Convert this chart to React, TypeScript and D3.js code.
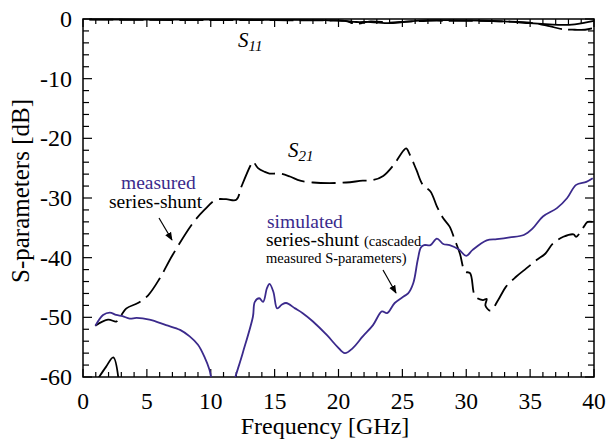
import React from "react";
import * as d3 from "d3";

const xTicks = [0, 5, 10, 15, 20, 25, 30, 35, 40];
const yTicks = [0, -10, -20, -30, -40, -50, -60];

// measured series-shunt S21 (dashed)
const measF = [0.96, 1.96, 2.6, 2.8, 3.4, 4.3, 5.1, 6.0, 7.0, 8.6, 9.5, 10.4, 11.2, 12.0, 12.4, 13.1, 13.3, 13.7, 14.2, 14.6, 15.4, 16.2, 17.0, 18.0, 19.3, 20.6, 21.9, 22.7, 23.5, 24.3, 25.1, 25.3, 25.6, 26.1, 26.6, 27.2, 27.7, 28.2, 28.7, 29.1, 29.5, 29.9, 30.3, 30.7, 31.3, 31.6, 31.5, 31.9, 32.5, 33.1, 33.9, 34.7, 35.5, 36.2, 36.8, 37.6, 38.4, 38.6, 39.3, 39.5, 39.9];
const measS21 = [-51.4, -50.4, -50.7, -50.3, -48.5, -47.6, -46.3, -43.5, -39.6, -34.2, -32.0, -30.3, -30.2, -30.3, -28.1, -24.6, -23.9, -25.0, -25.6, -25.9, -25.9, -26.4, -27.1, -27.4, -27.5, -27.4, -27.1, -27.0, -26.3, -24.5, -22.0, -21.7, -22.8, -25.3, -27.8, -28.9, -31.4, -33.4, -34.8, -37.0, -39.3, -42.3, -42.6, -46.5, -47.1, -46.9, -48.0, -48.9, -47.1, -44.9, -43.2, -41.8, -40.4, -39.3, -37.6, -36.5, -36.1, -36.5, -34.5, -34.0, -34.0];

// clipped low piece (measured, below axis)
const lowF = [1.2, 1.8, 2.37, 2.77];
const lowS21 = [-60.2, -58.3, -56.7, -60.2];

// simulated series-shunt (cascaded measured S-parameters)
const simF = [0.97, 1.57, 2.1, 2.6, 3.1, 3.65, 4.2, 5.2, 6.5, 7.6, 8.35, 9.0, 9.5, 9.9, 10.05, 10.2];
const simS21 = [-51.4, -49.6, -49.2, -49.6, -49.8, -50.2, -50.1, -50.4, -51.3, -52.1, -53.2, -54.6, -56.6, -58.8, -60.2, -61];
const sim2F = [11.8, 11.9, 12.5, 13.3, 13.45, 13.8, 14.1, 14.4, 14.6, 14.9, 15.2, 15.55, 15.9, 16.6, 17.2, 18.0, 19.1, 19.9, 20.5, 21.1, 21.9, 22.7, 23.4, 23.8, 24.4, 25.1, 25.45, 25.85, 26.2, 26.45, 26.7, 27.2, 27.7, 28.2, 28.7, 29.4, 30.0, 30.5, 31.6, 32.4, 33.4, 34.5, 35.2, 36.0, 37.1, 37.9, 38.6, 39.4, 39.9];
const sim2S21 = [-61, -60.2, -56.0, -49.9, -47.4, -46.8, -47.4, -45.1, -44.4, -45.7, -48.5, -47.9, -47.6, -48.5, -49.3, -50.7, -53.0, -54.9, -56.0, -55.2, -53.2, -51.3, -49.0, -49.3, -47.6, -46.5, -46.0, -44.3, -40.4, -38.3, -37.9, -37.9, -36.8, -37.7, -37.9, -38.6, -39.7, -38.7, -37.1, -36.9, -36.6, -36.2, -35.1, -33.1, -31.7, -30.0, -27.8, -27.3, -26.7];

// S11 curves near 0 dB
const s11F = [0.5, 5, 10, 15, 19, 20.5, 21.4, 22.5, 24, 25, 27, 29, 31, 33, 35, 36.5, 37.5, 38.5, 39.3, 40];
const s11Meas = [-0.1, -0.15, -0.2, -0.2, -0.25, -0.3, -0.8, -0.4, -0.6, -0.5, -0.3, -0.3, -0.3, -0.4, -0.6, -1.2, -1.7, -1.8, -1.8, -1.5];
const s11Sim = [-0.05, -0.1, -0.1, -0.15, -0.2, -0.3, -0.5, -0.5, -0.7, -0.5, -0.2, -0.2, -0.25, -0.4, -0.7, -0.9, -1.0, -0.9, -0.6, -0.3];

const W = 608, H = 446;
const L = 83, R = 594, T = 19, B = 377;
const purple = "#3b2a8c";
const ff = { fontFamily: "Liberation Serif" };

export default function App() {
  const x = d3.scaleLinear().domain([0, 40]).range([L, R]);
  const y = d3.scaleLinear().domain([-60, 0]).range([B, T]);
  const line = d3.line<[number, number]>().x(d => x(d[0])).y(d => y(d[1])).curve(d3.curveCatmullRom.alpha(0.5));
  const zip = (a: number[], b: number[]) => a.map((v, i) => [v, b[i]] as [number, number]);

  const minorX = d3.range(0, 41, 1);
  const minorY = d3.range(-60, 1, 2);

  return (
    <svg width={W} height={H} style={{ position: "absolute", left: 0, top: 0, background: "#fff" }}>
      <defs>
        <clipPath id="plot"><rect x={L} y={T - 3} width={R - L + 2} height={B - T + 3} /></clipPath>
        <marker id="arr" viewBox="0 0 10 10" refX="9" refY="5" markerWidth="7" markerHeight="7" orient="auto">
          <path d="M0,1 L10,5 L0,9 Z" fill="#000" />
        </marker>
      </defs>
      {minorX.map(v => {
        const len = v % 5 === 0 ? 8 : 5;
        return (
          <g key={"tx" + v} stroke="#000" strokeWidth={1.2}>
            <line x1={x(v)} x2={x(v)} y1={B} y2={B - len} />
            <line x1={x(v)} x2={x(v)} y1={T} y2={T + len} />
          </g>
        );
      })}
      {minorY.map(v => {
        const len = v % 10 === 0 ? 9 : 6;
        return (
          <g key={"ty" + v} stroke="#000" strokeWidth={1.2}>
            <line x1={L} x2={L + len} y1={y(v)} y2={y(v)} />
            <line x1={R} x2={R - len} y1={y(v)} y2={y(v)} />
          </g>
        );
      })}
      <rect x={L} y={T} width={R - L} height={B - T} fill="none" stroke="#000" strokeWidth={1.5} />
      {xTicks.map(v => (
        <text key={"lx" + v} x={x(v)} y={409} textAnchor="middle" fontSize={23.5} style={ff}>{v}</text>
      ))}
      {yTicks.map(v => (
        <text key={"ly" + v} x={72} y={y(v) + 8} textAnchor="end" fontSize={24} style={ff}>{v}</text>
      ))}
      <text x={325} y={434} textAnchor="middle" fontSize={24} style={ff}>Frequency [GHz]</text>
      <text transform="translate(29,191) rotate(-90)" textAnchor="middle" fontSize={25} style={ff}>S-parameters [dB]</text>

      <g clipPath="url(#plot)" fill="none">
        <path d={line(zip(s11F, s11Sim)) || ""} stroke="#000" strokeWidth={1.8} />
        <path d={line(zip(s11F, s11Meas)) || ""} stroke="#000" strokeWidth={1.8} strokeDasharray="24,6" />
        <path d={line(zip(measF, measS21)) || ""} stroke="#000" strokeWidth={1.8} strokeDasharray="24,7" />
        <path d={line(zip(lowF, lowS21)) || ""} stroke="#000" strokeWidth={1.8} />
        <path d={line(zip(simF, simS21)) || ""} stroke={purple} strokeWidth={1.8} />
        <path d={line(zip(sim2F, sim2S21)) || ""} stroke={purple} strokeWidth={1.8} />
      </g>

      <text x={238} y={47} fontSize={21} fontStyle="italic" style={ff}>S<tspan fontSize={15} dy={4}>11</tspan></text>
      <text x={288} y={157} fontSize={21} fontStyle="italic" style={ff}>S<tspan fontSize={15} dy={4}>21</tspan></text>

      <text x={121} y={189} fontSize={19.5} fill={purple} style={ff}>measured</text>
      <text x={109} y={208} fontSize={19.5} style={ff}>series-shunt</text>
      <line x1={159} y1={218} x2={172} y2={240} stroke="#000" strokeWidth={1.2} markerEnd="url(#arr)" />

      <text x={267} y={228} fontSize={19.5} fill={purple} style={ff}>simulated</text>
      <text x={266} y={246} fontSize={19.5} style={ff}>series-shunt <tspan fontSize={14.5}>(cascaded</tspan></text>
      <text x={266} y={263} fontSize={14.5} style={ff}>measured S-parameters)</text>
      <line x1={383} y1={270} x2={396} y2={293} stroke="#000" strokeWidth={1.2} markerEnd="url(#arr)" />
    </svg>
  );
}
